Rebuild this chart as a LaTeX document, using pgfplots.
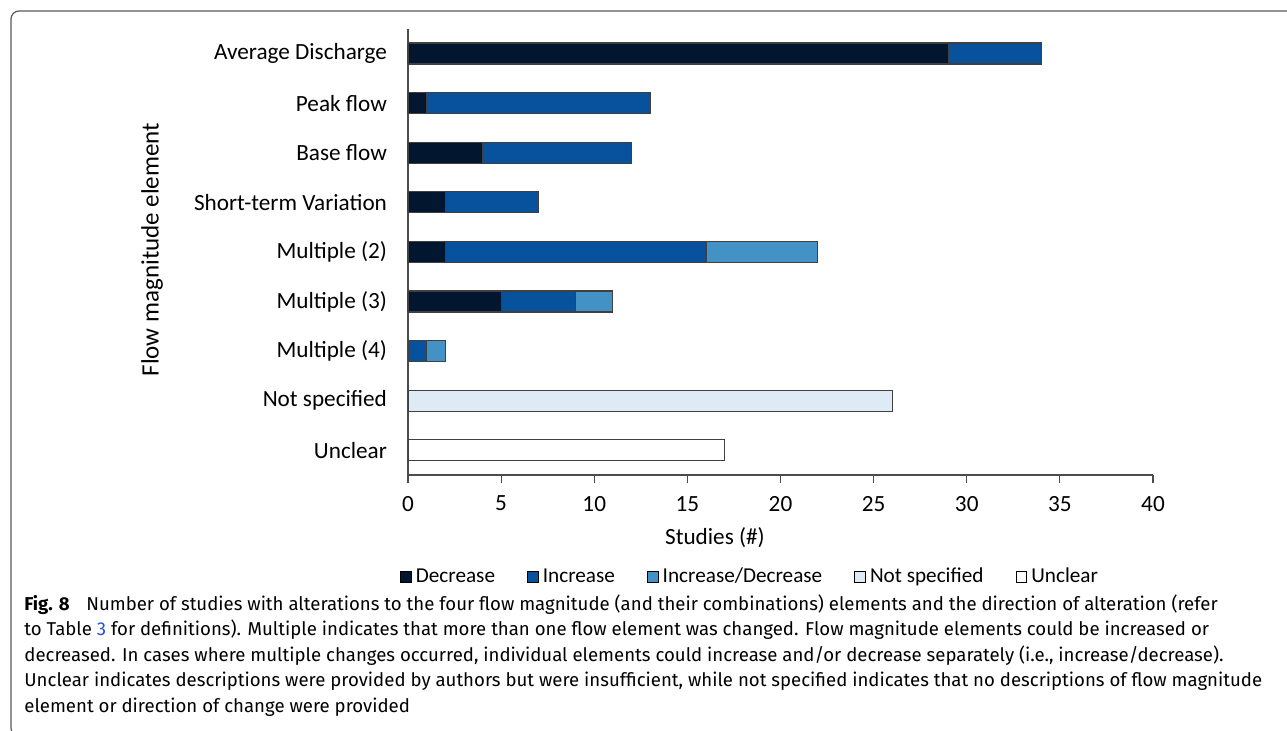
\documentclass[border=0pt]{standalone}
\usepackage{pgfplots}
\pgfplotsset{compat=1.18}
\usepackage{fontspec}
\setmainfont{Carlito}
\newfontfamily\capfont{Fira Sans}
\definecolor{cDec}{HTML}{03162F}
\definecolor{cInc}{HTML}{08519C}
\definecolor{cID}{HTML}{4292C6}
\definecolor{cNS}{HTML}{DEEBF7}
\definecolor{cUn}{HTML}{FFFFFF}
\definecolor{edge}{HTML}{404040}
\definecolor{capblue}{HTML}{1F4FD6}
\begin{document}
\begin{tikzpicture}
\useasboundingbox (0,0) rectangle (643.5pt,-365pt);
\draw[gray!70!black, line width=0.6pt, rounded corners=4pt] (650pt,-5.5pt) -- (5.5pt,-5.5pt) -- (5.5pt,-368pt) -- (12pt,-368pt);
\begin{axis}[
  at={(204pt,-237.5pt)}, anchor=south west,
  scale only axis, width=372.5pt, height=223.2pt,
  xbar stacked, bar width=10.5pt,
  xmin=0, xmax=40, ymin=-0.5, ymax=8.5, y dir=reverse,
  axis x line*=bottom, axis y line*=left,
  axis line style={gray!60!black, line width=0.6pt, -},
  xtick={0,5,...,40}, xtick pos=bottom,
  tick style={gray!60!black, line width=0.6pt},
  xtick align=outside, major tick length=4pt,
  ytick={0,...,8}, ytick style={draw=none},
  yticklabels={Average Discharge,Peak flow,Base flow,Short-term Variation,Multiple (2),Multiple (3),Multiple (4),Not specified,Unclear},
  /pgf/number format/assume math mode=true,
  ticklabel style={font=\fontsize{11.6}{13}\selectfont, text=black},
  yticklabel style={xshift=-7pt},
  xticklabel style={yshift=-3pt},
  xlabel={Studies (\#)},
  xlabel style={font=\fontsize{11.6}{13}\selectfont, at={(axis description cs:0.412,-0.141)}, anchor=center},
  ylabel={Flow magnitude element},
  ylabel style={font=\fontsize{12.5}{14}\selectfont, at={(axis description cs:-0.3436,0.505)}, anchor=center},
  every axis plot/.append style={draw=edge, line width=0.6pt},
  legend columns=5,
  legend style={at={(axis description cs:0.4604,-0.228)}, anchor=center, draw=none, font=\fontsize{10.6}{12}\selectfont, /tikz/every even column/.append style={column sep=14pt}, inner sep=0pt},
  legend image code/.code={\draw[#1, draw=black, line width=0.5pt] (0pt,-2.7pt) rectangle (5.4pt,2.7pt);},
]
\addplot[fill=cDec] coordinates {(29,0) (1,1) (4,2) (2,3) (2,4) (5,5) (0,6) (0,7) (0,8)};
\addplot[fill=cInc] coordinates {(5,0) (12,1) (8,2) (5,3) (14,4) (4,5) (1,6) (0,7) (0,8)};
\addplot[fill=cID] coordinates {(0,0) (0,1) (0,2) (0,3) (6,4) (2,5) (1,6) (0,7) (0,8)};
\addplot[fill=cNS] coordinates {(0,0) (0,1) (0,2) (0,3) (0,4) (0,5) (0,6) (26,7) (0,8)};
\addplot[fill=cUn] coordinates {(0,0) (0,1) (0,2) (0,3) (0,4) (0,5) (0,6) (0,7) (17,8)};
\legend{Decrease,Increase,Increase/Decrease,Not specified,Unclear}
\end{axis}
\begin{scope}[every node/.style={anchor=base west, inner sep=0pt, font=\capfont\fontsize{9.3}{11}\selectfont}]
\node at (12pt,-305pt) {\textbf{Fig. 8}\hspace{0.9em}Number of studies with alterations to the four flow magnitude (and their combinations) elements and the direction of alteration (refer};
\node at (12pt,-317.75pt) {to Table \textcolor{capblue}{3} for definitions). Multiple indicates that more than one flow element was changed. Flow magnitude elements could be increased or};
\node at (12pt,-330.5pt) {decreased. In cases where multiple changes occurred, individual elements could increase and/or decrease separately (i.e., increase/decrease).};
\node at (12pt,-343.25pt) {Unclear indicates descriptions were provided by authors but were insufficient, while not specified indicates that no descriptions of flow magnitude};
\node at (12pt,-356pt) {element or direction of change were provided};
\end{scope}
\end{tikzpicture}
\end{document}
